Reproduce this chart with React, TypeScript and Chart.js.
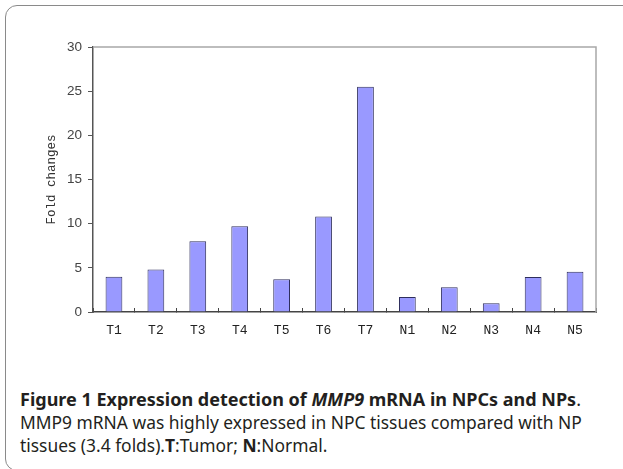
import React, { useEffect, useRef } from "react";
import { Chart, registerables } from "chart.js";

Chart.register(...registerables);

const categories = ["T1", "T2", "T3", "T4", "T5", "T6", "T7", "N1", "N2", "N3", "N4", "N5"];
const foldChanges = [4.0, 4.8, 8.0, 9.7, 3.7, 10.8, 25.5, 1.7, 2.8, 1.0, 3.95, 4.55];
const yTicks = [0, 5, 10, 15, 20, 25, 30];

const frameBorder = {
  id: "frameBorder",
  afterDraw(chart: any) {
    const { ctx, chartArea } = chart;
    ctx.save();
    ctx.strokeStyle = "#a8a8a8";
    ctx.lineWidth = 1.5;
    ctx.beginPath();
    ctx.moveTo(chartArea.left, chartArea.top);
    ctx.lineTo(chartArea.right, chartArea.top);
    ctx.lineTo(chartArea.right, chartArea.bottom);
    ctx.stroke();
    ctx.restore();
  },
};

export default function App() {
  const ref = useRef<HTMLCanvasElement | null>(null);
  useEffect(() => {
    if (!ref.current) return;
    const chart = new Chart(ref.current, {
      type: "bar",
      data: {
        labels: categories,
        datasets: [
          {
            data: foldChanges,
            backgroundColor: "#9999ff",
            borderColor: "#2e2e5c",
            borderWidth: 1,
            barPercentage: 0.4,
            categoryPercentage: 1,
          },
        ],
      },
      options: {
        animation: false,
        responsive: false,
        maintainAspectRatio: false,
        layout: { padding: { left: 44, top: 47, right: 27, bottom: 0 } },
        plugins: { legend: { display: false }, tooltip: { enabled: false } },
        scales: {
          x: {
            grid: {
              offset: true,
              drawOnChartArea: false,
              tickLength: -4,
              color: "#444",
              lineWidth: 1,
            },
            border: { color: "#444", width: 1.5 },
            ticks: {
              padding: 15,
              color: "#222",
              font: { family: "'Liberation Mono', monospace", size: 13 },
              maxRotation: 0,
            },
            afterFit(scale: any) {
              scale.height = 48;
            },
          },
          y: {
            min: 0,
            max: 30,
            afterBuildTicks(scale: any) {
              scale.ticks = yTicks.map((v) => ({ value: v }));
            },
            grid: {
              drawOnChartArea: false,
              tickLength: 5,
              color: "#555",
            },
            border: { color: "#555", width: 1.5 },
            ticks: {
              padding: 6,
              color: "#444",
              font: { family: "'Liberation Sans', Arial, sans-serif", size: 13.5 },
            },
            title: {
              display: true,
              text: "Fold changes",
              color: "#333",
              padding: 0,
              font: { family: "'Liberation Mono', monospace", size: 12.5 },
            },
            afterFit(scale: any) {
              scale.width = 49;
            },
          },
        },
      },
      plugins: [frameBorder],
    });
    return () => chart.destroy();
  }, []);

  const captionFont = "'Noto Sans', 'Open Sans', sans-serif";
  return (
    <div style={{ position: "absolute", left: 0, top: 0, width: 623, height: 469, overflow: "hidden", background: "#fff" }}>
      <div
        style={{
          position: "absolute",
          left: 5,
          top: 5,
          width: 700,
          height: 466,
          border: "1.5px solid #8a8a8a",
          borderRadius: 12,
          boxSizing: "border-box",
        }}
      />
      <canvas ref={ref} width={623} height={360} style={{ position: "absolute", left: 0, top: 0, width: 623, height: 360 }} />
      <div
        style={{
          position: "absolute",
          left: 20,
          top: 388,
          fontFamily: captionFont,
          lineHeight: "23px",
          color: "#231f20",
          whiteSpace: "nowrap",
        }}
      >
        <div style={{ fontWeight: "bold", fontSize: 18 }}>
          Figure 1 Expression detection of <i>MMP9</i> mRNA in NPCs and NPs<span style={{ fontWeight: "normal" }}>.</span>
        </div>
        <div style={{ fontSize: 17.4 }}>MMP9 mRNA was highly expressed in NPC tissues compared with NP</div>
        <div style={{ fontSize: 17.4 }}>
          tissues (3.4 folds).<b>T</b>:Tumor; <b>N</b>:Normal.
        </div>
      </div>
    </div>
  );
}
